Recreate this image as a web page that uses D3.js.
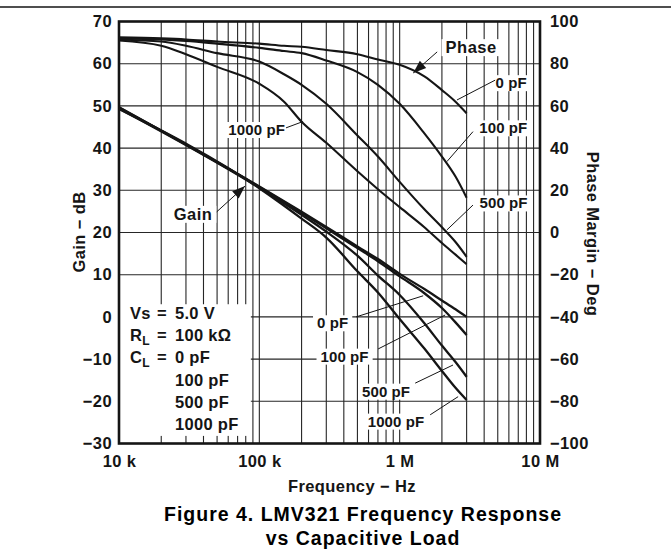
<!DOCTYPE html>
<html>
<head>
<meta charset="utf-8">
<script src="https://cdn.jsdelivr.net/npm/d3@7"></script>
<style>
  body { margin: 0; background: #fff; }
  svg { display: block; font-family: 'Liberation Sans', Arial, Helvetica, sans-serif; font-weight: bold; }
</style>
</head>
<body>
<svg width="671" height="550"></svg>
<script>
// ---- data ----
var loads = ['0 pF', '100 pF', '500 pF', '1000 pF'];

var phaseFreq = [1e4, 2e4, 3e4, 5e4, 1e5, 1.5e5, 2e5, 3e5, 5e5, 7e5, 1e6, 1.5e6, 2e6, 2.5e6, 3e6];
var phase0 = [92.5, 92, 91.5, 90.5, 89.5, 88.5, 88, 86.5, 84.5, 82, 79.5, 74, 67.5, 62, 56.5];
var phase100 = [92, 91.5, 90.8, 89.5, 87.5, 86, 85, 81.5, 76, 70, 61, 47, 36, 26.5, 16.5];
var phase500 = [91.5, 90.5, 88.5, 85, 81, 75, 70, 61, 46, 36, 24, 11, 2.5, -4.5, -11.5];
var phase1000 = [91, 88.5, 84.5, 78.5, 70.5, 62, 52.5, 42.5, 29, 20.5, 12, 2.5, -5, -10.5, -15];

var gainFreq = [1e4, 1e5, 2e5, 3e5, 5e5, 7e5, 1e6, 1.5e6, 2e6, 2.5e6, 3e6];
var gain0 = [49.7, 30.9, 24.9, 21.3, 16.7, 13.7, 10.2, 6.6, 3.9, 1.8, 0];
var gain100 = [49.6, 30.8, 24.7, 21.0, 16.3, 13.2, 9.6, 5.6, 2.1, -1.3, -4.3];
var gain500 = [49.4, 30.6, 24.2, 20.2, 14.5, 9.8, 5.2, -1.5, -6.8, -10.7, -14.2];
var gain1000 = [49.3, 30.5, 23.3, 18.8, 10.8, 5.8, -0.5, -7.5, -12.8, -16.8, -19.7];

var xTicks = [1e4, 1e5, 1e6, 1e7],
  xTickLabels = ['10 k', '100 k', '1 M', '10 M'];
var gainTicks = [-30, -20, -10, 0, 10, 20, 30, 40, 50, 60, 70];
var phaseTicks = [-100, -80, -60, -40, -20, 0, 20, 40, 60, 80, 100];

var legendNames = ['Vs', 'R', 'C'],
  legendSubs = ['', 'L', 'L'],
  legendValues = ['5.0 V', '100 k\u03A9', '0 pF', '100 pF', '500 pF', '1000 pF'];

// annotations, in data units (frequency, gain dB)
var notes = [
  {text: 'Phase', at: [3.23e6, 62.5], from: [1.85e6, 62.8], to: [1.25e6, 57.8], arrow: true, big: true},
  {text: '0 pF', at: [6.22e6, 54.2], from: [4.79e6, 56.1], to: [2.56e6, 51.4]},
  {text: '100 pF', at: [5.48e6, 43.5], from: [3.33e6, 43.9], to: [2.17e6, 36.8]},
  {text: '500 pF', at: [5.5e6, 25.7], from: [3.33e6, 26.5], to: [2.17e6, 20.6]},
  {text: '1000 pF', at: [9.57e4, 43.1], from: [1.55e5, 44.8], to: [2.05e5, 46.3]},
  {text: 'Gain', at: [3.37e4, 23.0], from: [4.97e4, 24.9], to: [7.91e4, 31.0], arrow: true, big: true},
  {text: '0 pF', at: [3.33e5, -2.7], from: [4.89e5, 0], to: [1.47e6, 5.0]},
  {text: '100 pF', at: [4.05e5, -10.6], from: [7.02e5, -7.6], to: [2.11e6, 0.45]},
  {text: '500 pF', at: [8.0e5, -18.9], from: [1.29e6, -15.7], to: [2.4e6, -11.4]},
  {text: '1000 pF', at: [9.42e5, -26.0], from: [1.65e6, -23.2], to: [2.61e6, -18.9]},
];

// ---- layout ----
var svg = d3.select('svg'),
  plot = {left: 119, right: 540, top: 21.5, bottom: 443.5},
  ink = '#151515';

var x = d3.scaleLog().domain([1e4, 1e7]).range([plot.left, plot.right]),
  y = d3.scaleLinear().domain([-30, 70]).range([plot.bottom, plot.top]),
  yPhase = d3.scaleLinear().domain([-100, 100]).range([plot.bottom, plot.top]);

// rule at the top of the page
svg.append('line')
  .attr('x1', 0).attr('x2', 671).attr('y1', 7).attr('y2', 7)
  .attr('stroke', ink).attr('stroke-width', 1.5);

// grid
var grid = svg.append('g').attr('stroke', '#262626').attr('stroke-width', 1.1);
grid.selectAll('.vg').data(x.ticks()).enter().append('line')
  .attr('x1', d => x(d)).attr('x2', d => x(d))
  .attr('y1', plot.top).attr('y2', plot.bottom);
grid.selectAll('.hg').data(gainTicks).enter().append('line')
  .attr('x1', plot.left).attr('x2', plot.right)
  .attr('y1', d => y(d)).attr('y2', d => y(d));

var boxLayer = svg.append('g').attr('fill', '#fff');

// legend panel covers the grid lower left
boxLayer.append('rect')
  .attr('x', plot.left)
  .attr('y', y(3))
  .attr('width', x(8.7e4) - plot.left)
  .attr('height', y(-28.2) - y(3));

// curves
var line = d3.line()
  .x(d => x(d.f))
  .y(d => d.y)
  .curve(d3.curveMonotoneX);

var phaseSeries = [phase0, phase100, phase500, phase1000],
  gainSeries = [gain0, gain100, gain500, gain1000];

var curves = svg.append('g')
  .attr('fill', 'none').attr('stroke', ink).attr('stroke-width', 2.1)
  .attr('stroke-linejoin', 'round');

curves.selectAll('.phase').data(phaseSeries).enter().append('path')
  .attr('class', 'phase')
  .attr('d', s => line(s.map((v, i) => ({f: phaseFreq[i], y: yPhase(v)}))));

curves.selectAll('.gain').data(gainSeries).enter().append('path')
  .attr('class', 'gain')
  .attr('stroke-width', 2.3)
  .attr('d', s => line(s.map((v, i) => ({f: gainFreq[i], y: y(v)}))));

// frame
svg.append('rect')
  .attr('x', plot.left).attr('y', plot.top)
  .attr('width', plot.right - plot.left).attr('height', plot.bottom - plot.top)
  .attr('fill', 'none').attr('stroke', ink).attr('stroke-width', 2.6);

// axes
function styleAxis(g, size) {
  g.select('.domain').remove();
  g.attr('font-family', null).attr('font-size', null);
  g.selectAll('text').attr('fill', ink).style('font-size', size + 'px').attr('letter-spacing', 0.4);
}

svg.append('g')
  .attr('transform', 'translate(' + plot.left + ',0)')
  .call(d3.axisLeft(y).tickValues(gainTicks).tickSize(0).tickPadding(7))
  .call(styleAxis, 16.5);

svg.append('g')
  .attr('transform', 'translate(' + plot.right + ',0)')
  .call(d3.axisRight(yPhase).tickValues(phaseTicks).tickSize(0).tickPadding(10))
  .call(styleAxis, 16.5);

svg.append('g')
  .attr('transform', 'translate(0,' + plot.bottom + ')')
  .call(d3.axisBottom(x).tickValues(xTicks).tickFormat((d, i) => xTickLabels[i]).tickSize(0).tickPadding(11.5))
  .call(styleAxis, 16.5);

// axis titles
svg.append('text')
  .attr('x', 352).attr('y', 492)
  .attr('text-anchor', 'middle').attr('fill', ink)
  .attr('font-size', 16.5).attr('letter-spacing', 0.4)
  .text('Frequency \u2212 Hz');

svg.append('text')
  .attr('transform', 'translate(85,232) rotate(-90)')
  .attr('text-anchor', 'middle').attr('fill', ink)
  .attr('font-size', 16.5).attr('letter-spacing', 0.4)
  .text('Gain \u2212 dB');

svg.append('text')
  .attr('transform', 'translate(587,234) rotate(90)')
  .attr('text-anchor', 'middle').attr('fill', ink)
  .attr('font-size', 16.5).attr('letter-spacing', 0.4)
  .text('Phase Margin \u2212 Deg');

// figure caption
var caption = svg.append('g').attr('fill', '#000').attr('font-size', 19.5).attr('letter-spacing', 1)
  .attr('text-anchor', 'middle');
caption.append('text').attr('x', 363).attr('y', 521).text('Figure 4. LMV321 Frequency Response');
caption.append('text').attr('x', 363).attr('y', 545).text('vs Capacitive Load');

// annotations
var leaders = svg.append('g').attr('stroke', ink).attr('stroke-width', 1);
var labels = svg.append('g').attr('fill', ink).attr('text-anchor', 'middle');

notes.forEach(function(n) {
  var x1 = x(n.from[0]), y1 = y(n.from[1]),
    x2 = x(n.to[0]), y2 = y(n.to[1]);
  leaders.append('line').attr('x1', x1).attr('y1', y1).attr('x2', x2).attr('y2', y2);
  if (n.arrow) {
    var a = Math.atan2(y2 - y1, x2 - x1), len = 13, w = 4.8;
    var bx = x2 - len * Math.cos(a), by = y2 - len * Math.sin(a);
    var pts = [
      [x2, y2],
      [bx + w * Math.sin(a), by - w * Math.cos(a)],
      [bx - w * Math.sin(a), by + w * Math.cos(a)],
    ];
    leaders.append('polygon').attr('points', pts.join(' ')).attr('fill', ink).attr('stroke', 'none');
  }
  var t = labels.append('text')
    .attr('x', x(n.at[0])).attr('y', y(n.at[1]))
    .attr('font-size', n.big ? 16.5 : 15)
    .attr('letter-spacing', n.big ? 0.5 : 0.1)
    .text(n.text);
  var bb = t.node().getBBox();
  boxLayer.append('rect')
    .attr('x', bb.x - 4).attr('y', bb.y + 1)
    .attr('width', bb.width + 8).attr('height', bb.height - 1);
});

// legend text
var legend = svg.append('g').attr('fill', ink).attr('font-size', 16.5).attr('letter-spacing', 0.3);
var rowH = 22.2, row0 = 319;
legendNames.forEach(function(name, i) {
  var t = legend.append('text').attr('x', 130).attr('y', row0 + i * rowH);
  t.append('tspan').text(name);
  if (legendSubs[i]) {
    t.append('tspan').attr('font-size', 12).attr('dy', 4).text(legendSubs[i]);
  }
  legend.append('text').attr('x', 157).attr('y', row0 + i * rowH).text('=');
});
legendValues.forEach(function(v, i) {
  legend.append('text').attr('x', 175).attr('y', row0 + i * rowH).text(v);
});
</script>
</body>
</html>
